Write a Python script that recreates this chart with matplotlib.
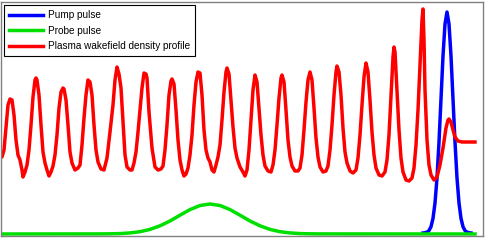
import numpy as np
import matplotlib.pyplot as plt

# Plasma wakefield density profile (position, density)
wake_x = [0, 2, 4, 6, 8, 10, 12, 14, 16, 18,
          20, 22, 23, 25, 27, 29, 31, 33, 35, 36,
          37, 39, 41, 43, 45, 47, 49, 51, 53, 55,
          57, 59, 61, 63, 64, 66, 68, 70, 72, 75,
          78, 80, 82, 84, 86, 88, 90, 92, 94, 96,
          98, 101, 104, 107, 110, 113, 115, 117, 119, 121,
          123, 125, 127, 130, 132, 134, 136, 138, 140, 142,
          144, 146, 147, 149, 152, 155, 158, 161, 163, 165,
          167, 169, 171, 172, 174, 176, 178, 180, 182, 184,
          186, 188, 190, 192, 194, 196, 198, 200, 202, 204,
          206, 208, 210, 212, 214, 216, 218, 220, 222, 224,
          226, 227, 229, 231, 233, 235, 237, 240, 243, 245,
          247, 249, 251, 253, 255, 257, 259, 261, 263, 265,
          268, 271, 273, 275, 277, 279, 281, 282, 284, 286,
          288, 290, 292, 295, 298, 300, 302, 304, 306, 308,
          310, 312, 314, 316, 318, 320, 323, 326, 328, 330,
          332, 334, 336, 337, 339, 341, 343, 345, 347, 350,
          353, 356, 358, 360, 362, 364, 366, 368, 370, 372,
          374, 376, 379, 382, 385, 387, 389, 391, 393, 394,
          395, 397, 399, 401, 403, 406, 409, 412, 414, 416,
          418, 420, 422, 423, 424, 425, 427, 429, 431, 434,
          437, 440, 443, 446, 448, 449, 451, 453, 455, 458,
          462, 475]
wake_y = [81, 79, 86, 109, 131, 137, 136, 121, 96, 81,
          76, 66, 59, 64, 71, 86, 111, 139, 156, 158,
          156, 141, 111, 84, 73, 66, 60, 64, 70, 81,
          101, 128, 144, 148, 147, 136, 111, 84, 73, 66,
          68, 71, 91, 118, 141, 156, 154, 141, 111, 86,
          74, 67, 66, 78, 104, 131, 156, 169, 162, 148,
          114, 81, 69, 66, 66, 73, 84, 104, 126, 148,
          163, 162, 158, 124, 88, 69, 66, 67, 70, 86,
          111, 141, 155, 157, 152, 126, 96, 76, 66, 60,
          62, 68, 81, 101, 131, 154, 164, 163, 141, 106,
          86, 78, 74, 66, 64, 71, 79, 91, 116, 144,
          164, 168, 162, 136, 109, 88, 78, 69, 64, 60,
          66, 86, 116, 146, 161, 154, 128, 101, 81, 70,
          65, 64, 71, 86, 111, 138, 158, 161, 154, 126,
          96, 79, 70, 65, 65, 68, 81, 106, 134, 156,
          164, 156, 128, 98, 79, 69, 64, 65, 70, 86,
          111, 141, 164, 170, 164, 141, 108, 84, 73, 65,
          63, 66, 78, 101, 131, 159, 173, 164, 136, 104,
          81, 68, 61, 60, 64, 76, 101, 141, 179, 189,
          184, 146, 106, 78, 64, 56, 55, 58, 68, 91,
          126, 171, 216, 227, 196, 146, 96, 71, 61, 56,
          59, 71, 88, 108, 116, 117, 114, 106, 99, 95,
          94, 94]

# Probe pulse (broad, weak)
probe_x = [0, 100, 110, 120, 130, 140, 150, 160, 170, 180, 190, 200, 210, 220, 230,
           240, 250, 260, 270, 280, 290, 300, 310, 320, 475]
probe_y = [2.0, 2.1, 2.2, 2.4, 3.1, 4.3, 6.6, 10.2, 15.0, 20.8, 26.4, 30.5, 32.0, 30.5,
           26.4, 20.8, 15.0, 10.2, 6.6, 4.3, 3.1, 2.4, 2.2, 2.1, 2.0]

# Pump pulse (narrow, strong)
pump_x = [423, 425, 427, 429, 431, 433, 435, 437, 439, 441, 443, 445, 447, 449, 451,
          453, 455, 457, 459, 461, 463, 465, 467, 469, 471]
pump_y = [3.0, 3.3, 3.9, 5.4, 9.3, 17.6, 33, 58, 94, 137, 180, 212, 224, 212, 180,
          137, 94, 58, 33, 17.6, 9.3, 5.4, 3.9, 3.3, 3.0]

plt.rcParams['font.family'] = ['Liberation Sans', 'DejaVu Sans']

fig = plt.figure(figsize=(4.86, 2.40), dpi=100)
ax = fig.add_axes([1 / 486, 4 / 240, 482 / 486, 234 / 240])

lw = 2.5
ax.plot(pump_x, pump_y, color='#0000ff', linewidth=lw, label='Pump pulse', solid_joinstyle='round')
ax.plot(probe_x, probe_y, color='#00e000', linewidth=lw, label='Probe pulse', solid_joinstyle='round')
ax.plot(wake_x, wake_y, color='#ff0000', linewidth=lw, label='Plasma wakefield density profile',
        solid_joinstyle='round')

ax.set_xlim(1, 483)
ax.set_ylim(0, 234)
ax.set_xticks([])
ax.set_yticks([])
for spine in ax.spines.values():
    spine.set_color('#808080')
    spine.set_linewidth(1.0)

leg = ax.legend(loc='upper left', bbox_to_anchor=(4 / 486, 1 - 5 / 240),
                bbox_transform=fig.transFigure, borderaxespad=0,
                fontsize=7.2, handlelength=3.4, handletextpad=0.5,
                labelspacing=0.55, borderpad=0.5, fancybox=False, framealpha=1)
leg.get_frame().set_edgecolor('black')
leg.get_frame().set_linewidth(0.8)

fig.savefig('out.png', dpi=100)
